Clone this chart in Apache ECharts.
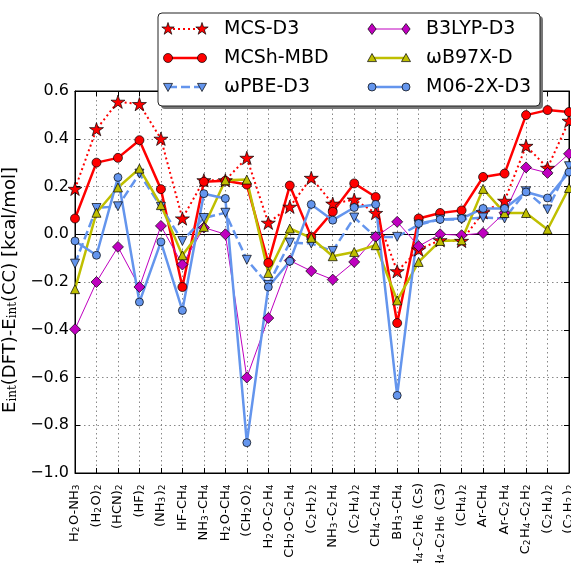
<!DOCTYPE html>
<html>
<head>
<meta charset="utf-8">
<script src="https://cdn.jsdelivr.net/npm/echarts@6/dist/echarts.min.js"></script>
<style>
  html, body { margin: 0; padding: 0; background: #ffffff; }
  #chart { width: 571px; height: 563px; }
</style>
</head>
<body>
<div id="chart"></div>
<script>
// Complexes (rich-text markup: {s|..} is a subscript)
const categories = [
  'H{s|2}O-NH{s|3}', '(H{s|2}O){s|2}', '(HCN){s|2}', '(HF){s|2}', '(NH{s|3}){s|2}',
  'HF-CH{s|4}', 'NH{s|3}-CH{s|4}', 'H{s|2}O-CH{s|4}', '(CH{s|2}O){s|2}', 'H{s|2}O-C{s|2}H{s|4}',
  'CH{s|2}O-C{s|2}H{s|4}', '(C{s|2}H{s|2}){s|2}', 'NH{s|3}-C{s|2}H{s|4}', '(C{s|2}H{s|4}){s|2}',
  'CH{s|4}-C{s|2}H{s|4}', 'BH{s|3}-CH{s|4}', 'CH{s|4}-C{s|2}H{s|6} (Cs)', 'CH{s|4}-C{s|2}H{s|6} (C3)',
  '(CH{s|4}){s|2}', 'Ar-CH{s|4}', 'Ar-C{s|2}H{s|4}', 'C{s|2}H{s|4}-C{s|2}H{s|2}', '(C{s|2}H{s|4}){s|2}',
  '(C{s|2}H{s|2}){s|2}'
];

// Interaction-energy errors, kcal/mol
const mcsD3   = [0.19, 0.44, 0.555, 0.545, 0.40, 0.066, 0.226, 0.226, 0.32, 0.048, 0.115, 0.236,
                 0.128, 0.145, 0.089, -0.155, -0.064, -0.025, -0.028, 0.092, 0.14, 0.37, 0.278, 0.475];
const mcshMBD = [0.066, 0.30, 0.32, 0.394, 0.189, -0.221, 0.22, 0.224, 0.208, -0.12, 0.204, -0.011,
                 0.094, 0.213, 0.156, -0.372, 0.066, 0.089, 0.10, 0.24, 0.254, 0.499, 0.52, 0.512];
const wpbeD3  = [-0.123, 0.11, 0.117, 0.254, 0.115, -0.028, 0.068, 0.09, -0.107, -0.212, -0.035, -0.039,
                 -0.07, 0.07, -0.011, -0.011, 0.04, 0.062, 0.062, 0.07, 0.066, 0.18, 0.104, 0.285];
const b3lypD3 = [-0.398, -0.20, -0.053, -0.221, 0.035, -0.127, 0.028, 0.0, -0.60, -0.351, -0.11, -0.154,
                 -0.19, -0.116, -0.011, 0.052, -0.05, 0.0, -0.004, 0.005, 0.09, 0.28, 0.257, 0.337];
const wb97xD  = [-0.23, 0.09, 0.196, 0.275, 0.122, -0.088, 0.031, 0.226, 0.229, -0.162, 0.024, -0.015,
                 -0.092, -0.074, -0.046, -0.277, -0.116, -0.028, -0.025, 0.19, 0.089, 0.089, 0.02, 0.194];
const m062xD3 = [-0.028, -0.088, 0.238, -0.284, -0.032, -0.319, 0.17, 0.15, -0.873, -0.221, -0.113, 0.125,
                 0.059, 0.112, 0.125, -0.675, 0.045, 0.062, 0.066, 0.108, 0.108, 0.177, 0.152, 0.26];

const yTicks = { min: -1.0, max: 0.6, step: 0.2 };

// Five-point star outline (inner radius ratio 0.382)
function starPoints(cx, cy, R) {
  const pts = [];
  for (let i = 0; i < 10; i++) {
    const a = (-90 + i * 36) * Math.PI / 180;
    const r = (i % 2) ? R * 0.382 : R;
    pts.push([cx + r * Math.cos(a), cy + r * Math.sin(a)]);
  }
  return pts;
}
const starSymbol = 'path://' + starPoints(0, 0, 10)
  .map((p, i) => (i ? 'L' : 'M') + p[0].toFixed(3) + ' ' + p[1].toFixed(3)).join(' ') + ' Z';

const RED = '#ff0000', CORN = '#6495ed', MAG = '#bf00bf', OLIVE = '#bfbf00';

const seriesDefs = [
  { name: 'MCS-D3', data: mcsD3, color: RED, lw: 2, dash: [2, 3], symbol: 'star', size: 14 },
  { name: 'MCSh-MBD', data: mcshMBD, color: RED, lw: 2.5, dash: 'solid', symbol: 'circle', size: 9 },
  { name: 'ωPBE-D3', data: wpbeD3, color: CORN, lw: 2.5, dash: [9, 4], symbol: 'tridown', size: 9 },
  { name: 'B3LYP-D3', data: b3lypD3, color: MAG, lw: 1, dash: 'solid', symbol: 'diamond', size: 11 },
  { name: 'ωB97X-D', data: wb97xD, color: OLIVE, lw: 2.5, dash: 'solid', symbol: 'triangle', size: 9 },
  { name: 'M06-2X-D3', data: m062xD3, color: CORN, lw: 2.5, dash: 'solid', symbol: 'circle', size: 8 }
];

function echartsSymbol(d) {
  if (d.symbol === 'star') return { symbol: starSymbol, symbolKeepAspect: true };
  if (d.symbol === 'tridown') return { symbol: 'triangle', symbolRotate: 180 };
  return { symbol: d.symbol };
}

const series = seriesDefs.map((d, i) => {
  const s = Object.assign({
    name: d.name,
    type: 'line',
    data: d.data,
    symbolSize: d.size,
    showAllSymbol: true,
    lineStyle: { color: d.color, width: d.lw, type: d.dash },
    itemStyle: { color: d.color, borderColor: '#000', borderWidth: 0.7 },
    emphasis: { disabled: true },
    animation: false,
    z: 3
  }, echartsSymbol(d));
  if (i === 0) {
    s.markLine = {
      silent: true,
      symbol: ['none', 'none'],
      label: { show: false },
      lineStyle: { color: '#000', type: 'solid', width: 1 },
      data: [{ yAxis: 0 }],
      z: 1
    };
  }
  return s;
});

// Legend box (two columns)
function legendMarker(d, cx, cy) {
  const style = { fill: d.color, stroke: '#000', lineWidth: 0.7 };
  const h = d.size / 2;
  if (d.symbol === 'circle') return { type: 'circle', shape: { cx, cy, r: h }, style };
  if (d.symbol === 'star') return { type: 'polygon', shape: { points: starPoints(cx, cy, 6.5) }, style };
  if (d.symbol === 'diamond') return { type: 'polygon', shape: { points: [[cx, cy - h], [cx + h * 0.75, cy], [cx, cy + h], [cx - h * 0.75, cy]] }, style };
  if (d.symbol === 'triangle') return { type: 'polygon', shape: { points: [[cx, cy - h], [cx + h, cy + h * 0.8], [cx - h, cy + h * 0.8]] }, style };
  return { type: 'polygon', shape: { points: [[cx, cy + h], [cx + h, cy - h * 0.8], [cx - h, cy - h * 0.8]] }, style };
}
const legendEls = [
  { type: 'rect', shape: { x: 161, y: 16, width: 382, height: 93, r: 4 }, style: { fill: '#777' }, z: 100 },
  { type: 'rect', shape: { x: 158, y: 13, width: 382, height: 93, r: 4 }, style: { fill: '#fff', stroke: '#222', lineWidth: 1 }, z: 101 }
];
seriesDefs.forEach((d, i) => {
  const col = Math.floor(i / 3), row = i % 3;
  const x0 = col ? 372 : 168, x1 = x0 + 34, tx = col ? 426 : 224;
  const y = 29 + row * 29;
  legendEls.push({
    type: 'line', shape: { x1: x0, y1: y, x2: x1, y2: y },
    style: { stroke: d.color, lineWidth: d.lw, lineDash: d.dash === 'solid' ? null : d.dash }, z: 102
  });
  const m0 = legendMarker(d, x0, y), m1 = legendMarker(d, x1, y);
  m0.z = 103; m1.z = 103;
  legendEls.push(m0, m1);
  legendEls.push({
    type: 'text', x: tx, y: y,
    style: { text: d.name, fill: '#000', font: '19px "DejaVu Sans"', verticalAlign: 'middle', align: 'left' },
    z: 103
  });
});

const fmtY = v => {
  const t = Math.abs(v) < 1e-9 ? '0.0' : v.toFixed(1);
  return t.replace('-', '\u2212');
};

const chart = echarts.init(document.getElementById('chart'), null, { renderer: 'canvas' });
chart.setOption({
  animation: false,
  backgroundColor: '#ffffff',
  textStyle: { fontFamily: 'DejaVu Sans' },
  grid: {
    left: 75, right: 2, top: 91, bottom: 90, outerBoundsMode: 'none', containLabel: false,
    show: true, borderColor: '#000', borderWidth: 1, backgroundColor: 'transparent'
  },
  xAxis: [
    {
      type: 'category', data: categories, boundaryGap: false,
      axisLine: { onZero: false, lineStyle: { color: '#000', width: 1 } },
      axisTick: { inside: true, length: 5, interval: 0, lineStyle: { color: '#000' } },
      axisLabel: {
        interval: 0, rotate: 90, margin: 10, color: '#000', fontSize: 13, fontFamily: 'DejaVu Sans',
        hideOverlap: false,
        rich: { s: { fontSize: 9, fontFamily: 'DejaVu Sans', verticalAlign: 'bottom', padding: [0, 1.5, 0, 0], color: '#000' } }
      },
      splitLine: { show: true, interval: 0, lineStyle: { color: '#888', type: [1.5, 3], width: 1 } }
    },
    {
      type: 'category', data: categories, boundaryGap: false, position: 'top',
      axisLine: { onZero: false, lineStyle: { color: '#000' } },
      axisTick: { inside: true, length: 5, interval: 0, lineStyle: { color: '#000' } },
      axisLabel: { show: false }, splitLine: { show: false }
    }
  ],
  yAxis: [
    {
      type: 'value', min: yTicks.min, max: yTicks.max, interval: yTicks.step,
      name: 'E{s|int}(DFT)-E{s|int}(CC) [kcal/mol]',
      nameLocation: 'middle', nameRotate: 90, nameGap: 48,
      nameTextStyle: {
        color: '#000', fontSize: 18, fontFamily: 'DejaVu Sans', padding: [0, 16, 0, 0],
        rich: { s: { fontSize: 12, fontFamily: 'DejaVu Serif', verticalAlign: 'bottom', color: '#000' } }
      },
      axisLine: { show: true, lineStyle: { color: '#000' } },
      axisTick: { show: true, inside: true, length: 5, lineStyle: { color: '#000' } },
      axisLabel: { color: '#000', fontSize: 16, margin: 6, formatter: fmtY },
      splitLine: { show: true, lineStyle: { color: '#888', type: [1.5, 3], width: 1 } }
    },
    {
      type: 'value', min: yTicks.min, max: yTicks.max, interval: yTicks.step, position: 'right',
      axisLine: { show: true, lineStyle: { color: '#000' } },
      axisTick: { show: true, inside: true, length: 5, lineStyle: { color: '#000' } },
      axisLabel: { show: false }, splitLine: { show: false }
    }
  ],
  series: series,
  graphic: { elements: legendEls }
});
</script>
</body>
</html>
